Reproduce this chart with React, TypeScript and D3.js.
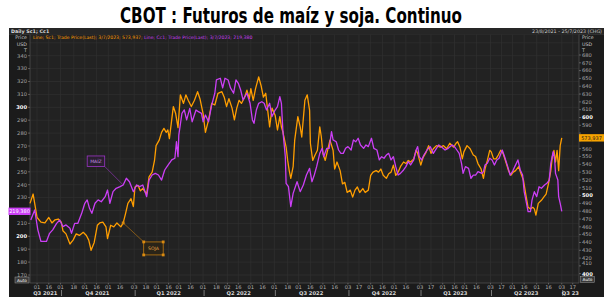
import React from "react";
import * as d3 from "d3";

// ---------- DATA ----------
const soyDates = [
"2021-08-23","2021-08-27","2021-09-01","2021-09-06","2021-09-11","2021-09-16","2021-09-20","2021-09-24","2021-09-28","2021-10-02",
"2021-10-04","2021-10-08","2021-10-13","2021-10-17","2021-10-21","2021-10-25","2021-10-30","2021-11-03","2021-11-06","2021-11-09",
"2021-11-13","2021-11-17","2021-11-20","2021-11-24","2021-11-28","2021-11-30","2021-12-04","2021-12-08","2021-12-12","2021-12-17",
"2021-12-20","2021-12-23","2021-12-26","2021-12-30","2022-01-02","2022-01-04","2022-01-08","2022-01-11","2022-01-14","2022-01-19",
"2022-01-22","2022-01-26","2022-01-29","2022-01-31","2022-02-04","2022-02-07","2022-02-10","2022-02-13","2022-02-15","2022-02-17",
"2022-02-22","2022-02-25","2022-02-28","2022-03-03","2022-03-07","2022-03-10","2022-03-13","2022-03-17","2022-03-21","2022-03-25",
"2022-03-28","2022-04-01","2022-04-04","2022-04-08","2022-04-12","2022-04-16","2022-04-20","2022-04-25","2022-04-28","2022-05-01",
"2022-05-04","2022-05-08","2022-05-11","2022-05-14","2022-05-17","2022-05-20","2022-05-24","2022-05-27","2022-05-30","2022-06-01",
"2022-06-04","2022-06-07","2022-06-11","2022-06-14","2022-06-17","2022-06-20","2022-06-23","2022-06-25","2022-06-28","2022-07-02",
"2022-07-05","2022-07-08","2022-07-10","2022-07-12","2022-07-16","2022-07-18","2022-07-20","2022-07-22","2022-07-25","2022-07-27",
"2022-07-31","2022-08-03","2022-08-05","2022-08-09","2022-08-12","2022-08-15","2022-08-16","2022-08-19","2022-08-22","2022-08-25",
"2022-08-28","2022-08-30","2022-09-01","2022-09-04","2022-09-07","2022-09-10","2022-09-14","2022-09-16","2022-09-19","2022-09-23",
"2022-09-26","2022-09-29","2022-10-02","2022-10-06","2022-10-09","2022-10-12","2022-10-15","2022-10-18","2022-10-22","2022-10-25",
"2022-10-29","2022-11-01","2022-11-04","2022-11-08","2022-11-11","2022-11-14","2022-11-17","2022-11-21","2022-11-24","2022-11-27",
"2022-11-30","2022-12-03","2022-12-06","2022-12-09","2022-12-13","2022-12-16","2022-12-19","2022-12-22","2022-12-26","2022-12-29",
"2022-12-31","2023-01-04","2023-01-07","2023-01-11","2023-01-14","2023-01-17","2023-01-20","2023-01-24","2023-01-29","2023-02-02",
"2023-02-06","2023-02-10","2023-02-15","2023-02-18","2023-02-20","2023-02-23","2023-02-26","2023-02-28","2023-03-04","2023-03-08",
"2023-03-12","2023-03-15","2023-03-18","2023-03-22","2023-03-25","2023-03-27","2023-03-30","2023-04-02","2023-04-04","2023-04-07",
"2023-04-10","2023-04-13","2023-04-16","2023-04-19","2023-04-22","2023-04-26","2023-04-29","2023-05-02","2023-05-05","2023-05-09",
"2023-05-12","2023-05-15","2023-05-18","2023-05-21","2023-05-24","2023-05-27","2023-05-29","2023-05-31","2023-06-03","2023-06-07",
"2023-06-10","2023-06-13","2023-06-16","2023-06-19","2023-06-21","2023-06-23","2023-06-25","2023-06-27","2023-06-29","2023-07-01",
"2023-07-03"];
const soyValues = [
490,502,472,466,465,472,465,469,470,466,
455,451,438,443,451,449,453,449,443,430,
440,462,465,466,460,445,462,460,465,460,
465,477,490,496,486,511,513,506,509,502,
524,530,545,564,571,581,586,581,584,573,
614,605,587,629,618,629,622,614,622,633,
624,605,581,597,618,616,631,633,626,614,
624,612,597,612,622,618,626,635,624,637,
622,637,652,641,626,631,605,588,612,603,
584,601,588,581,562,545,532,522,537,571,
601,588,575,622,629,609,567,545,552,558,
588,575,554,545,558,571,558,534,543,532,
515,517,504,507,498,507,511,504,509,504,
507,526,530,532,530,534,526,522,528,530,
539,526,530,537,543,541,545,543,547,558,
554,539,549,556,564,554,560,564,562,564,
560,567,562,567,569,562,547,556,564,560,
552,550,541,534,522,534,545,558,556,547,
547,552,558,554,545,532,526,530,532,537,
528,520,502,485,483,485,483,475,490,494,
498,502,515,532,550,558,543,558,532,564,
573.937];

const cornDates = [
"2021-08-24","2021-08-29","2021-09-02","2021-09-06","2021-09-13","2021-09-17","2021-09-21","2021-09-26","2021-09-30","2021-10-04",
"2021-10-08","2021-10-13","2021-10-15","2021-10-19","2021-10-23","2021-10-28","2021-11-01","2021-11-04","2021-11-07","2021-11-10",
"2021-11-14","2021-11-18","2021-11-22","2021-11-27","2021-11-30","2021-12-03","2021-12-07","2021-12-11","2021-12-16","2021-12-20",
"2021-12-24","2021-12-28","2022-01-02","2022-01-06","2022-01-10","2022-01-14","2022-01-19","2022-01-22","2022-01-26","2022-01-30",
"2022-02-03","2022-02-07","2022-02-11","2022-02-15","2022-02-20","2022-02-24","2022-02-26","2022-02-28","2022-03-01","2022-03-05",
"2022-03-08","2022-03-11","2022-03-15","2022-03-18","2022-03-23","2022-03-26","2022-03-30","2022-04-01","2022-04-04","2022-04-08",
"2022-04-12","2022-04-16","2022-04-18","2022-04-23","2022-04-26","2022-04-29","2022-05-03","2022-05-06","2022-05-10","2022-05-13",
"2022-05-16","2022-05-19","2022-05-22","2022-05-27","2022-05-31","2022-06-03","2022-06-05","2022-06-08","2022-06-11","2022-06-15",
"2022-06-18","2022-06-21","2022-06-25","2022-06-28","2022-07-02","2022-07-05","2022-07-08","2022-07-10","2022-07-12","2022-07-15",
"2022-07-16","2022-07-19","2022-07-22","2022-07-25","2022-07-30","2022-08-03","2022-08-07","2022-08-11","2022-08-15","2022-08-18",
"2022-08-21","2022-08-24","2022-08-28","2022-08-31","2022-09-02","2022-09-06","2022-09-09","2022-09-12","2022-09-14","2022-09-18",
"2022-09-21","2022-09-24","2022-09-27","2022-09-30","2022-10-03","2022-10-07","2022-10-10","2022-10-13","2022-10-16","2022-10-19",
"2022-10-23","2022-10-26","2022-10-29","2022-11-02","2022-11-05","2022-11-09","2022-11-12","2022-11-15","2022-11-18","2022-11-21",
"2022-11-24","2022-11-27","2022-11-30","2022-12-03","2022-12-06","2022-12-09","2022-12-13","2022-12-16","2022-12-19","2022-12-22",
"2022-12-26","2022-12-29","2022-12-31","2023-01-02","2023-01-05","2023-01-08","2023-01-12","2023-01-16","2023-01-20","2023-01-24",
"2023-01-27","2023-01-31","2023-02-04","2023-02-08","2023-02-13","2023-02-16","2023-02-19","2023-02-22","2023-02-25","2023-02-27",
"2023-03-02","2023-03-06","2023-03-09","2023-03-12","2023-03-15","2023-03-18","2023-03-23","2023-03-25","2023-03-27","2023-03-30",
"2023-04-02","2023-04-05","2023-04-08","2023-04-11","2023-04-14","2023-04-18","2023-04-21","2023-04-25","2023-04-28","2023-05-01",
"2023-05-04","2023-05-08","2023-05-11","2023-05-14","2023-05-16","2023-05-19","2023-05-21","2023-05-24","2023-05-26","2023-05-29",
"2023-06-01","2023-06-04","2023-06-07","2023-06-11","2023-06-14","2023-06-17","2023-06-19","2023-06-22","2023-06-24","2023-06-25",
"2023-06-28","2023-06-29","2023-07-01","2023-07-03"];
const cornValues = [
212.6,220.4,205,196,196,202.3,205,210,212.6,207.5,
208.8,206.2,202.3,210,210,217.8,225.6,228.2,221.7,217.8,
225.6,228.2,226.8,230.7,235.9,225.6,234.6,237.2,238.5,239.8,
245,242.3,234.6,239.8,238.5,239.8,230.7,243.6,247.5,248.8,
247.5,243.6,251.4,255,259.2,260.5,273.3,261.7,278.5,295.3,
298,290.2,299.2,288.8,297.9,296.6,295.3,288.8,294,288.8,
301.8,310.9,321.2,322.5,315,322.5,321.2,315,310.9,321.2,
318.6,313.4,305.7,310.9,303.1,290.2,287.6,297.9,303.1,304.3,
303.1,297.9,303.1,292.8,297.9,300.5,308.2,303.1,281.1,261.8,
241.1,238.5,223,233.3,242.3,234.6,239.8,247.5,252.7,242.3,
247.5,254,264.3,268.2,261.7,268.2,268.2,281.1,274.7,273.3,
266.9,264.3,264.3,268.2,269.5,266.9,274.7,273.3,276,270.8,
268.2,270.8,269.5,276,268.2,266.9,259.2,261.7,260.5,263,
264.3,259.2,261.7,254,247.5,248.8,251.4,254,257.9,255.3,
259.2,266.9,269.5,261.7,259.2,263,266.9,269.5,264.3,268.2,
270.8,269,266.9,268.2,270.8,269.5,266.9,264.3,256.6,248.8,
254,252.7,245,247.5,247.5,250.1,248.8,250.1,255.3,256.6,
260.5,259.2,255.3,259.2,260.5,266.9,261.7,254,247.5,250.1,
254,259.2,251.4,247.5,234.6,225.6,219.1,219.1,228.1,234.6,
230.7,238.4,237.2,239.8,241.1,243.6,256.6,265.6,259.2,248.8,
243.6,230.7,225.6,219.38];

const xTickDates = [
"2021-09-01","2021-09-16","2021-10-01","2021-10-18","2021-11-01","2021-11-16","2021-12-01","2021-12-16",
"2022-01-03","2022-01-18","2022-02-01","2022-02-16","2022-03-01","2022-03-16","2022-04-01","2022-04-18",
"2022-05-02","2022-05-16","2022-06-01","2022-06-16","2022-07-01","2022-07-18","2022-08-01","2022-08-16",
"2022-09-01","2022-09-16","2022-10-03","2022-10-17","2022-11-01","2022-11-16","2022-12-01","2022-12-16",
"2023-01-03","2023-01-17","2023-02-01","2023-02-16","2023-03-01","2023-03-16","2023-04-03","2023-04-17",
"2023-05-01","2023-05-16","2023-06-01","2023-06-16","2023-07-03","2023-07-17"];
const quarterStarts = ["2021-08-23","2021-10-01","2022-01-03","2022-04-01","2022-07-01","2022-10-03","2023-01-03","2023-04-03","2023-07-03","2023-07-25"];
const quarterLabels = ["Q3 2021","Q4 2021","Q1 2022","Q2 2022","Q3 2022","Q4 2022","Q1 2023","Q2 2023","Q3 23"];
const leftTicks = [170,180,190,200,210,220,230,240,250,260,270,280,290,300,310,320,330,340];
const rightTicks = [400,410,420,430,440,450,460,470,480,490,500,510,520,530,540,550,560,570,580,590,600,610,620,630,640,650,660,670,680];
const xDomain = ["2021-08-23","2023-07-25"];

const title = "CBOT : Futuros de maíz y soja. Continuo";
const lastSoyValue = 573.937;
const lastCornValue = 219.38;
const lastSoy = "573,937";
const lastCorn = "219,380";

// ---------- CHART ----------
const parse = d3.timeParse("%Y-%m-%d");
const ORANGE = "#ff9e00";
const PURPLE = "#cb3ff5";
const FONT = "DejaVu Sans, Verdana, sans-serif";

export default function App() {
  const plot = { l: 30, r: 579, t: 34.5, b: 283 };
  const x = d3.scaleTime().domain(xDomain.map((d) => parse(d) as Date)).range([plot.l, plot.r]);
  const yL = d3.scaleLinear().domain([170, 340]).range([275, 55.7]);
  const yR = d3.scaleLinear().domain([400, 680]).range([273.7, 55]);

  const soy = soyDates.map((d, i) => ({ d: parse(d) as Date, v: soyValues[i] }));
  const corn = cornDates.map((d, i) => ({ d: parse(d) as Date, v: cornValues[i] }));

  const soyLine = d3.line<{ d: Date; v: number }>().x((p) => x(p.d)).y((p) => yR(p.v));
  const cornLine = d3.line<{ d: Date; v: number }>().x((p) => x(p.d)).y((p) => yL(p.v));

  const xt = xTickDates.map((d) => parse(d) as Date);
  const qs = quarterStarts.map((d) => parse(d) as Date);

  const mAnchor = { x: x(parse("2021-12-20") as Date), y: yL(239.8) };
  const sAnchor = { x: x(parse("2021-12-20") as Date), y: yR(465) };

  const small = 5.2;
  const cornLabelY = yL(lastCornValue);
  const soyLabelY = yR(lastSoyValue);

  return (
    <svg width={606} height={300} style={{ position: "absolute", left: 0, top: 0, background: "#ffffff" }} fontFamily={FONT}>
      <rect x={0} y={0} width={606} height={300} fill="#ffffff" />
      <text
        x={291}
        y={23}
        textAnchor="middle"
        fontFamily="DejaVu Sans Condensed, DejaVu Sans, sans-serif"
        fontWeight="bold"
        fontSize={22}
        textLength={342}
        lengthAdjust="spacingAndGlyphs"
        fill="#000"
      >
        {title}
      </text>

      {/* panel */}
      <rect x={9} y={28} width={595} height={269} fill="#1b1b1b" />
      <rect x={9} y={28} width={595} height={6.5} fill="#262626" />
      <line x1={9} x2={604} y1={34.5} y2={34.5} stroke="#3a3a3a" strokeWidth={0.6} />
      <text x={11} y={33} fontSize={4.8} fill="#dcdcdc" fontWeight="bold">Daily Sc1; Cc1</text>
      <text x={602} y={33} fontSize={4.8} fill="#c8c8c8" textAnchor="end">23/8/2021 - 25/7/2023 (CHG)</text>

      {/* plot area */}
      <rect x={plot.l} y={plot.t} width={plot.r - plot.l} height={plot.b - plot.t} fill="#222222" />
      {leftTicks.map((t) => (
        <line key={"hg" + t} x1={plot.l} x2={plot.r} y1={yL(t)} y2={yL(t)} stroke="#303030" strokeWidth={0.7} />
      ))}
      <line x1={plot.l} x2={plot.r} y1={yL(350)} y2={yL(350)} stroke="#303030" strokeWidth={0.7} />
      {xt.map((d, i) => (
        <line key={"vg" + i} x1={x(d)} x2={x(d)} y1={plot.t} y2={plot.b} stroke="#303030" strokeWidth={0.7} />
      ))}

      {/* legend row */}
      <text x={33} y={39} fontSize={4.6}>
        <tspan fill={ORANGE}>Line; Sc1; Trade Price(Last); 3/7/2023; 573,937; </tspan>
        <tspan fill={PURPLE}>Line; Cc1; Trade Price(Last); 3/7/2023; 219,380</tspan>
      </text>
      <text x={27} y={39} fontSize={4.8} fill="#c8c8c8" textAnchor="end">Price</text>
      <text x={27} y={45.5} fontSize={4.8} fill="#c8c8c8" textAnchor="end">USD</text>
      <text x={27} y={52} fontSize={4.8} fill="#c8c8c8" textAnchor="end">T</text>
      <text x={582} y={39} fontSize={4.8} fill="#c8c8c8">Price</text>
      <text x={582} y={45.5} fontSize={4.8} fill="#c8c8c8">USD</text>
      <text x={582} y={52} fontSize={4.8} fill="#c8c8c8">T</text>

      {/* axes */}
      <line x1={plot.l} x2={plot.l} y1={plot.t} y2={plot.b} stroke="#555" strokeWidth={0.7} />
      <line x1={plot.r} x2={plot.r} y1={plot.t} y2={plot.b} stroke="#555" strokeWidth={0.7} />
      <line x1={plot.l} x2={plot.r} y1={plot.b} y2={plot.b} stroke="#555" strokeWidth={0.7} />
      {leftTicks.map((t) => (
        <g key={"lt" + t}>
          <line x1={plot.l - 2} x2={plot.l} y1={yL(t)} y2={yL(t)} stroke="#888" strokeWidth={0.6} />
          {Math.abs(yL(t) - cornLabelY) > 6 && (
            <text
              x={plot.l - 3}
              y={yL(t) + 1.8}
              fontSize={small}
              textAnchor="end"
              fill={t % 100 === 0 ? "#ffffff" : "#a8a8a8"}
              fontWeight={t % 100 === 0 ? "bold" : "normal"}
            >
              {t}
            </text>
          )}
        </g>
      ))}
      {rightTicks.map((t) => (
        <g key={"rt" + t}>
          <line x1={plot.r} x2={plot.r + 2} y1={yR(t)} y2={yR(t)} stroke="#888" strokeWidth={0.6} />
          {Math.abs(yR(t) - soyLabelY) > 6 && (
            <text
              x={plot.r + 3}
              y={yR(t) + (t === 410 ? -0.5 : 1.8)}
              fontSize={small}
              fill={t % 100 === 0 ? "#ffffff" : "#a8a8a8"}
              fontWeight={t % 100 === 0 ? "bold" : "normal"}
            >
              {t}
            </text>
          )}
        </g>
      ))}
      {xt.map((d, i) => (
        <g key={"xt" + i}>
          <line x1={x(d)} x2={x(d)} y1={plot.b} y2={plot.b + 1.5} stroke="#888" strokeWidth={0.6} />
          <text x={x(d)} y={plot.b + 6} fontSize={small} textAnchor="middle" fill="#b0b0b0">
            {d3.timeFormat("%d")(d)}
          </text>
        </g>
      ))}
      {quarterLabels.map((q, i) => {
        const a = x(qs[i]);
        const b = x(qs[i + 1]);
        return (
          <g key={"q" + i}>
            {i > 0 && <line x1={a + 1} x2={a + 1} y1={plot.b + 7} y2={plot.b + 13} stroke="#bbbbbb" strokeWidth={0.6} />}
            <text x={(a + b) / 2} y={plot.b + 11.5} fontSize={small} textAnchor="middle" fill="#d8d8d8" fontWeight="bold">
              {q}
            </text>
          </g>
        );
      })}

      {/* series */}
      <g>
        <path d={soyLine(soy) || ""} fill="none" stroke={ORANGE} strokeWidth={1.3} strokeLinejoin="round" />
        <path d={cornLine(corn) || ""} fill="none" stroke={PURPLE} strokeWidth={1.3} strokeLinejoin="round" />
      </g>

      {/* annotations */}
      <line x1={mAnchor.x} y1={mAnchor.y} x2={mAnchor.x - 18.5} y2={mAnchor.y - 18.5} stroke="#9a35c4" strokeWidth={0.6} />
      <rect x={mAnchor.x - 36} y={mAnchor.y - 29} width={17.5} height={10.5} fill="#2a1f30" stroke="#9a35c4" strokeWidth={0.8} />
      <text x={mAnchor.x - 27.25} y={mAnchor.y - 22} fontSize={4.6} textAnchor="middle" fill="#c98fe6">MAÍZ</text>

      <line x1={sAnchor.x} y1={sAnchor.y} x2={sAnchor.x + 20.5} y2={sAnchor.y + 19} stroke="#c07a10" strokeWidth={0.6} />
      <rect x={sAnchor.x + 20.5} y={sAnchor.y + 19} width={19.5} height={13} fill="#2a2418" stroke="#c07a10" strokeWidth={0.8} />
      <text x={sAnchor.x + 30.25} y={sAnchor.y + 27.2} fontSize={4.6} textAnchor="middle" fill="#e0a040">SOJA</text>
      {[
        [sAnchor.x, sAnchor.y],
        [sAnchor.x + 20.5, sAnchor.y + 19],
        [sAnchor.x + 40, sAnchor.y + 19],
        [sAnchor.x + 20.5, sAnchor.y + 32],
        [sAnchor.x + 40, sAnchor.y + 32],
      ].map(([hx, hy], i) => (
        <rect key={"h" + i} x={hx - 1.4} y={hy - 1.4} width={2.8} height={2.8} fill="#d98a10" />
      ))}

      {/* last value labels */}
      <rect x={8.5} y={cornLabelY - 3.7} width={22} height={7.4} fill={PURPLE} />
      <text x={19.5} y={cornLabelY + 1.8} fontSize={5} textAnchor="middle" fill="#ffffff">{lastCorn}</text>
      <rect x={plot.r} y={soyLabelY - 3.7} width={25} height={7.4} fill="#f7a300" />
      <text x={plot.r + 12.5} y={soyLabelY + 1.8} fontSize={5} textAnchor="middle" fill="#1a1a1a">{lastSoy}</text>

      {/* Auto buttons */}
      <rect x={15} y={277} width={14} height={6} fill="#3a3a3a" stroke="#9a9a9a" strokeWidth={0.5} />
      <text x={22} y={281.6} fontSize={4.3} textAnchor="middle" fill="#ffffff">Auto</text>
      <rect x={580.5} y={276.5} width={14} height={6} fill="#3a3a3a" stroke="#9a9a9a" strokeWidth={0.5} />
      <text x={587.5} y={281.1} fontSize={4.3} textAnchor="middle" fill="#ffffff">Auto</text>
    </svg>
  );
}
